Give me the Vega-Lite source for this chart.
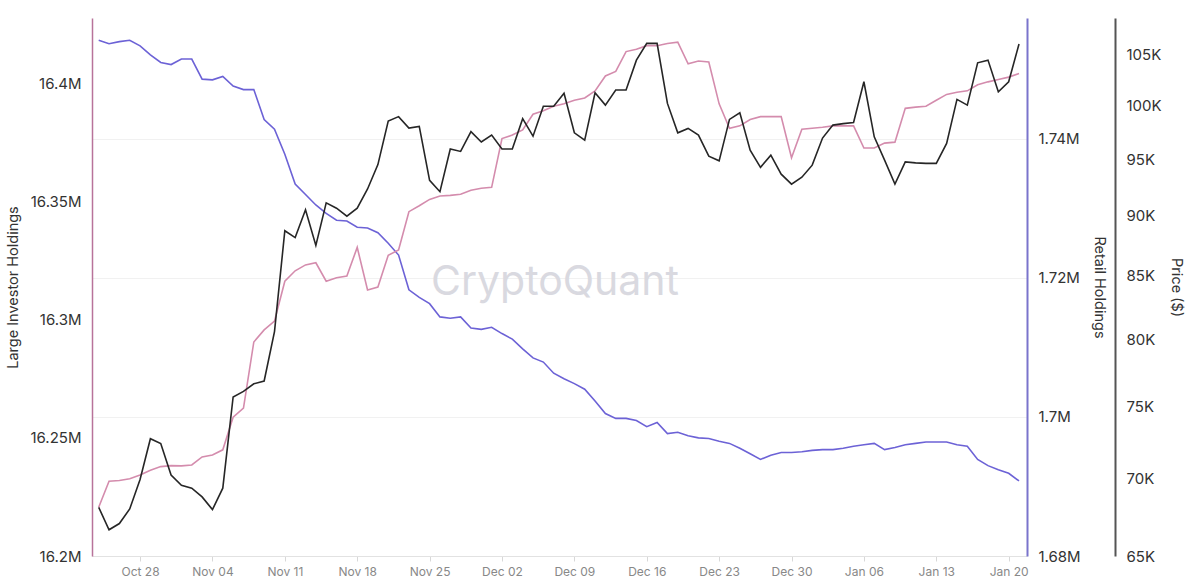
{
  "$schema": "https://vega.github.io/schema/vega-lite/v6.json",
  "width": 935,
  "height": 538,
  "autosize": {"type": "none"},
  "padding": {"left": 92, "top": 18, "right": 173, "bottom": 31},
  "background": "white",
  "config": {
    "view": {"stroke": null},
    "font": "Inter",
    "axis": {"labelFont": "Inter", "titleFont": "Inter", "titleFontWeight": "normal"}
  },
  "datasets": {
    "mark": [{"label": "CryptoQuant"}]
  },
  "data": {
    "values": [
      {"date": "2024-10-24T00:00", "large": 16220600, "retail": 1754200, "price": 68100},
      {"date": "2024-10-25T00:00", "large": 16231600, "retail": 1753700, "price": 66650},
      {"date": "2024-10-26T00:00", "large": 16231900, "retail": 1754000, "price": 67050},
      {"date": "2024-10-27T00:00", "large": 16232700, "retail": 1754200, "price": 67990},
      {"date": "2024-10-28T00:00", "large": 16234300, "retail": 1753400, "price": 69940},
      {"date": "2024-10-29T00:00", "large": 16236300, "retail": 1752100, "price": 72720},
      {"date": "2024-10-30T00:00", "large": 16237800, "retail": 1751000, "price": 72380},
      {"date": "2024-10-31T00:00", "large": 16238200, "retail": 1750700, "price": 70240},
      {"date": "2024-11-01T00:00", "large": 16238100, "retail": 1751500, "price": 69550},
      {"date": "2024-11-02T00:00", "large": 16238500, "retail": 1751500, "price": 69360},
      {"date": "2024-11-03T00:00", "large": 16241900, "retail": 1748600, "price": 68780},
      {"date": "2024-11-04T00:00", "large": 16242700, "retail": 1748500, "price": 67950},
      {"date": "2024-11-05T00:00", "large": 16244900, "retail": 1749000, "price": 69360},
      {"date": "2024-11-06T00:00", "large": 16258700, "retail": 1747600, "price": 75680},
      {"date": "2024-11-07T00:00", "large": 16262500, "retail": 1747100, "price": 76090},
      {"date": "2024-11-08T00:00", "large": 16290500, "retail": 1747100, "price": 76640},
      {"date": "2024-11-09T00:00", "large": 16295600, "retail": 1742800, "price": 76850},
      {"date": "2024-11-10T00:00", "large": 16299300, "retail": 1741400, "price": 80570},
      {"date": "2024-11-11T00:00", "large": 16316200, "retail": 1737800, "price": 88730},
      {"date": "2024-11-12T00:00", "large": 16320600, "retail": 1733500, "price": 88150},
      {"date": "2024-11-13T00:00", "large": 16323100, "retail": 1732000, "price": 90530},
      {"date": "2024-11-14T00:00", "large": 16324000, "retail": 1730500, "price": 87500},
      {"date": "2024-11-15T00:00", "large": 16316200, "retail": 1729300, "price": 91130},
      {"date": "2024-11-16T00:00", "large": 16317700, "retail": 1728300, "price": 90670},
      {"date": "2024-11-17T00:00", "large": 16318400, "retail": 1728200, "price": 89980},
      {"date": "2024-11-18T00:00", "large": 16330500, "retail": 1727300, "price": 90670},
      {"date": "2024-11-19T00:00", "large": 16312500, "retail": 1727200, "price": 92350},
      {"date": "2024-11-20T00:00", "large": 16313700, "retail": 1726500, "price": 94530},
      {"date": "2024-11-21T00:00", "large": 16327200, "retail": 1725000, "price": 98550},
      {"date": "2024-11-22T00:00", "large": 16329400, "retail": 1723300, "price": 98970},
      {"date": "2024-11-23T00:00", "large": 16345600, "retail": 1718300, "price": 97890},
      {"date": "2024-11-24T00:00", "large": 16348100, "retail": 1717200, "price": 98050},
      {"date": "2024-11-25T00:00", "large": 16350800, "retail": 1716300, "price": 93120},
      {"date": "2024-11-26T00:00", "large": 16352200, "retail": 1714400, "price": 92110},
      {"date": "2024-11-27T00:00", "large": 16352500, "retail": 1714200, "price": 95950},
      {"date": "2024-11-28T00:00", "large": 16353000, "retail": 1714400, "price": 95730},
      {"date": "2024-11-29T00:00", "large": 16354700, "retail": 1712800, "price": 97560},
      {"date": "2024-11-30T00:00", "large": 16355500, "retail": 1712600, "price": 96600},
      {"date": "2024-12-01T00:00", "large": 16355900, "retail": 1712900, "price": 97240},
      {"date": "2024-12-02T00:00", "large": 16376500, "retail": 1712000, "price": 95950},
      {"date": "2024-12-03T00:00", "large": 16378000, "retail": 1711200, "price": 95950},
      {"date": "2024-12-04T00:00", "large": 16380200, "retail": 1709800, "price": 98780},
      {"date": "2024-12-05T00:00", "large": 16386800, "retail": 1708500, "price": 97140},
      {"date": "2024-12-06T00:00", "large": 16388300, "retail": 1707900, "price": 99960},
      {"date": "2024-12-07T00:00", "large": 16390200, "retail": 1706300, "price": 99960},
      {"date": "2024-12-08T00:00", "large": 16391200, "retail": 1705500, "price": 101200},
      {"date": "2024-12-09T00:00", "large": 16392700, "retail": 1704800, "price": 97450},
      {"date": "2024-12-10T00:00", "large": 16393700, "retail": 1704000, "price": 96770},
      {"date": "2024-12-11T00:00", "large": 16396700, "retail": 1702300, "price": 101250},
      {"date": "2024-12-12T00:00", "large": 16403000, "retail": 1700500, "price": 100070},
      {"date": "2024-12-13T00:00", "large": 16404900, "retail": 1699800, "price": 101520},
      {"date": "2024-12-14T00:00", "large": 16413300, "retail": 1699800, "price": 101520},
      {"date": "2024-12-15T00:00", "large": 16414300, "retail": 1699500, "price": 104470},
      {"date": "2024-12-16T00:00", "large": 16415800, "retail": 1698600, "price": 106160},
      {"date": "2024-12-17T00:00", "large": 16415800, "retail": 1699200, "price": 106160},
      {"date": "2024-12-18T00:00", "large": 16416700, "retail": 1697600, "price": 100230},
      {"date": "2024-12-19T00:00", "large": 16417300, "retail": 1697800, "price": 97450},
      {"date": "2024-12-20T00:00", "large": 16408100, "retail": 1697300, "price": 97860},
      {"date": "2024-12-21T00:00", "large": 16409300, "retail": 1697000, "price": 97240},
      {"date": "2024-12-22T00:00", "large": 16408900, "retail": 1696900, "price": 95300},
      {"date": "2024-12-23T00:00", "large": 16391200, "retail": 1696500, "price": 94870},
      {"date": "2024-12-24T00:00", "large": 16380900, "retail": 1696200, "price": 98710},
      {"date": "2024-12-25T00:00", "large": 16381900, "retail": 1695500, "price": 99330},
      {"date": "2024-12-26T00:00", "large": 16384600, "retail": 1694700, "price": 95850},
      {"date": "2024-12-27T00:00", "large": 16385800, "retail": 1693900, "price": 94280},
      {"date": "2024-12-28T00:00", "large": 16385800, "retail": 1694500, "price": 95390},
      {"date": "2024-12-29T00:00", "large": 16385800, "retail": 1694900, "price": 93670},
      {"date": "2024-12-30T00:00", "large": 16368400, "retail": 1694900, "price": 92780},
      {"date": "2024-12-31T00:00", "large": 16380500, "retail": 1695000, "price": 93400},
      {"date": "2025-01-01T00:00", "large": 16380900, "retail": 1695200, "price": 94480},
      {"date": "2025-01-02T00:00", "large": 16381300, "retail": 1695300, "price": 96960},
      {"date": "2025-01-03T00:00", "large": 16381900, "retail": 1695300, "price": 98170},
      {"date": "2025-01-04T00:00", "large": 16381900, "retail": 1695500, "price": 98310},
      {"date": "2025-01-05T00:00", "large": 16381900, "retail": 1695800, "price": 98410},
      {"date": "2025-01-06T00:00", "large": 16372500, "retail": 1696000, "price": 102330},
      {"date": "2025-01-07T00:00", "large": 16372500, "retail": 1696200, "price": 97080},
      {"date": "2025-01-08T00:00", "large": 16374600, "retail": 1695300, "price": 94940},
      {"date": "2025-01-09T00:00", "large": 16375000, "retail": 1695600, "price": 92780},
      {"date": "2025-01-10T00:00", "large": 16389300, "retail": 1696000, "price": 94780},
      {"date": "2025-01-11T00:00", "large": 16389800, "retail": 1696200, "price": 94690},
      {"date": "2025-01-12T00:00", "large": 16390200, "retail": 1696400, "price": 94640},
      {"date": "2025-01-13T00:00", "large": 16392700, "retail": 1696400, "price": 94640},
      {"date": "2025-01-14T00:00", "large": 16395200, "retail": 1696400, "price": 96470},
      {"date": "2025-01-15T00:00", "large": 16396100, "retail": 1696000, "price": 100620},
      {"date": "2025-01-16T00:00", "large": 16396700, "retail": 1695800, "price": 100070},
      {"date": "2025-01-17T00:00", "large": 16399300, "retail": 1693900, "price": 104200},
      {"date": "2025-01-18T00:00", "large": 16400500, "retail": 1693000, "price": 104470},
      {"date": "2025-01-19T00:00", "large": 16401500, "retail": 1692400, "price": 101350},
      {"date": "2025-01-20T00:00", "large": 16402500, "retail": 1691900, "price": 102330},
      {"date": "2025-01-21T00:00", "large": 16404000, "retail": 1690800, "price": 106090}
    ]
  },
  "layer": [
    {
      "data": {"name": "mark"},
      "mark": {"type": "text", "fontSize": 41, "font": "Inter", "color": "#d9d9e0", "align": "center", "baseline": "middle"},
      "encoding": {
        "x": {"datum": {"year": 2024, "month": 12, "date": 7, "hours": 3}, "type": "temporal"},
        "y": {"datum": 0.507, "type": "quantitative", "scale": {"domain": [0, 1]}, "axis": null},
        "text": {"field": "label"}
      }
    },
    {
      "mark": {"type": "line", "color": "#6c62d6", "strokeWidth": 1.6},
      "encoding": {
        "x": {
          "field": "date",
          "type": "temporal",
          "scale": {
            "domain": [
              {"year": 2024, "month": 10, "date": 23, "hours": 8, "minutes": 27},
              {"year": 2025, "month": 1, "date": 21, "hours": 18, "minutes": 32}
            ]
          },
          "axis": {
            "title": null,
            "values": [
              {"year": 2024, "month": 10, "date": 28},
              {"year": 2024, "month": 11, "date": 4},
              {"year": 2024, "month": 11, "date": 11},
              {"year": 2024, "month": 11, "date": 18},
              {"year": 2024, "month": 11, "date": 25},
              {"year": 2024, "month": 12, "date": 2},
              {"year": 2024, "month": 12, "date": 9},
              {"year": 2024, "month": 12, "date": 16},
              {"year": 2024, "month": 12, "date": 23},
              {"year": 2024, "month": 12, "date": 30},
              {"year": 2025, "month": 1, "date": 6},
              {"year": 2025, "month": 1, "date": 13},
              {"year": 2025, "month": 1, "date": 20}
            ],
            "format": "%b %d",
            "labelColor": "#888888",
            "labelFontSize": 12,
            "labelPadding": 5,
            "tickColor": "#d8d8d8",
            "tickSize": 5,
            "domainColor": "#e2e2e2",
            "grid": false
          }
        },
        "y": {
          "field": "retail",
          "type": "quantitative",
          "scale": {"domain": [1680000, 1757400], "zero": false, "nice": false},
          "axis": {
            "orient": "right",
            "title": "Retail Holdings",
            "values": [1680000, 1700000, 1720000, 1740000],
            "format": "~s",
            "ticks": false,
            "labelPadding": 11,
            "labelFontSize": 15,
            "labelColor": "#333333",
            "titleFontSize": 14.5,
            "titleColor": "#333333",
            "titlePadding": 11,
            "domainColor": "#7a74cc",
            "domainWidth": 2,
            "grid": true,
            "gridColor": "#f1f1f1"
          }
        }
      }
    },
    {
      "mark": {"type": "line", "color": "#d48cad", "strokeWidth": 1.6},
      "encoding": {
        "x": {"field": "date", "type": "temporal"},
        "y": {
          "field": "large",
          "type": "quantitative",
          "scale": {"domain": [16200000, 16427500], "zero": false, "nice": false},
          "axis": {
            "orient": "left",
            "title": "Large Investor Holdings",
            "values": [16200000, 16250000, 16300000, 16350000, 16400000],
            "format": "~s",
            "ticks": false,
            "labelPadding": 11,
            "labelFontSize": 15,
            "labelColor": "#333333",
            "titleFontSize": 14.5,
            "titleColor": "#333333",
            "titlePadding": 9,
            "domainColor": "#b8739a",
            "domainWidth": 1.5,
            "grid": false
          }
        }
      }
    },
    {
      "mark": {"type": "line", "color": "#262626", "strokeWidth": 1.6},
      "encoding": {
        "x": {"field": "date", "type": "temporal"},
        "y": {
          "field": "price",
          "type": "quantitative",
          "scale": {"type": "log", "domain": [65000, 108766], "nice": false},
          "axis": {
            "orient": "right",
            "offset": 88,
            "title": "Price ($)",
            "values": [65000, 70000, 75000, 80000, 85000, 90000, 95000, 100000, 105000],
            "labelExpr": "replace(format(datum.value, '~s'), 'k', 'K')",
            "ticks": false,
            "labelPadding": 11,
            "labelFontSize": 15,
            "labelColor": "#333333",
            "titleFontSize": 14.5,
            "titleColor": "#333333",
            "titlePadding": 7,
            "domainColor": "#555555",
            "domainWidth": 2,
            "grid": false
          }
        }
      }
    }
  ],
  "resolve": {"scale": {"y": "independent"}}
}
